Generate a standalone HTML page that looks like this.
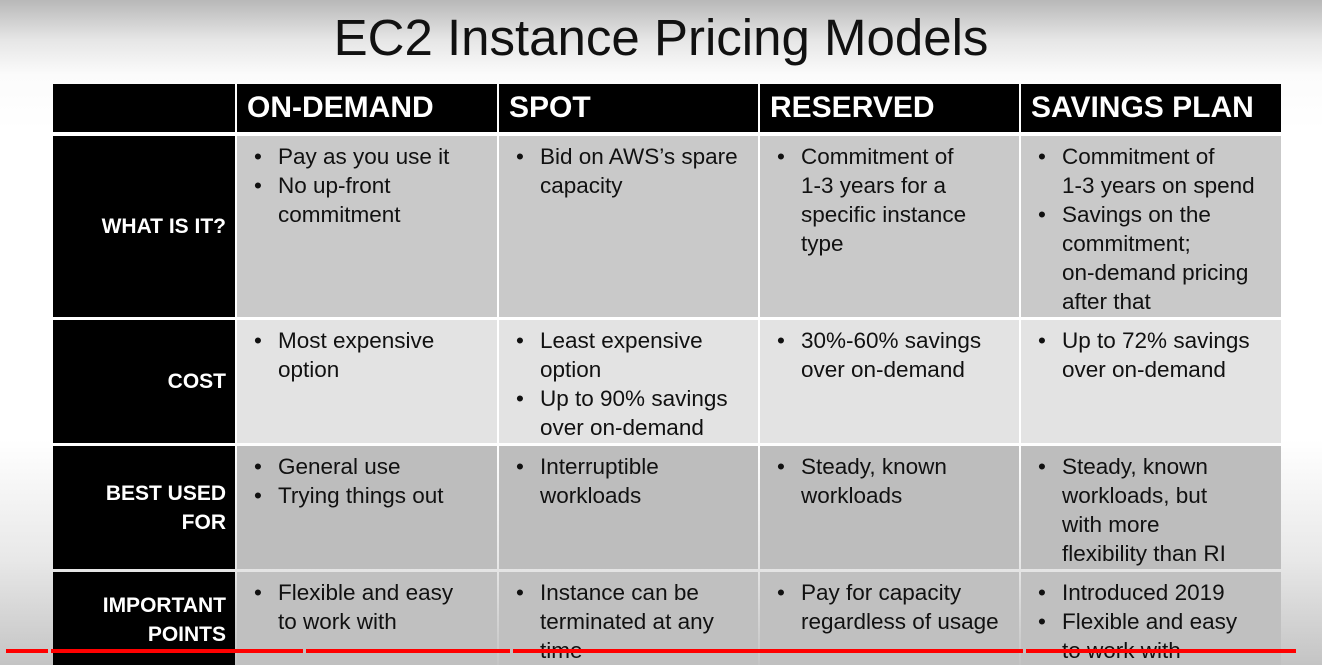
<!DOCTYPE html>
<html><head><meta charset="utf-8"><style>
html,body{margin:0;padding:0}
body{width:1322px;height:665px;overflow:hidden;position:relative;font-family:"Liberation Sans",sans-serif;
background:linear-gradient(to bottom,#b8b8b8 0px,#e6e6e6 40px,#fbfbfb 75px,#ffffff 130px,#ffffff 440px,#e8e8e8 560px,#c4c4c4 665px);}
.title{position:absolute;left:0;width:1322px;top:8px;text-align:center;font-size:51px;color:#111}
.c{position:absolute;box-sizing:border-box}
.h{background:#000;color:#fff;font-weight:bold;font-size:30px;line-height:48px;padding-left:10px}
.l{background:#000;color:#fff;font-weight:bold;font-size:21px;line-height:29px;text-align:right;padding-right:9px;display:flex;flex-direction:column;justify-content:center}
.d{font-size:22.5px;line-height:29px;color:#111;padding-top:6px;overflow:hidden;white-space:nowrap}
.d ul{margin:0;padding:0;list-style:none}
.d li{position:relative;padding-left:41px}
.d li:before{content:"•";position:absolute;left:17px}
.r1{background:#c9c9c9}.r2{background:#e3e3e3}.r3{background:#bdbdbd}.r4{background:#c0c0c0}
.bar{position:absolute;top:649px;height:4px;background:#f00}
</style></head><body>
<div class="title">EC2 Instance Pricing Models</div>

<div class="c h" style="left:53px;top:84px;width:182px;height:48px"></div>
<div class="c h" style="left:237px;top:84px;width:260px;height:48px">ON-DEMAND</div>
<div class="c h" style="left:499px;top:84px;width:259px;height:48px">SPOT</div>
<div class="c h" style="left:760px;top:84px;width:259px;height:48px">RESERVED</div>
<div class="c h" style="left:1021px;top:84px;width:260px;height:48px">SAVINGS PLAN</div>

<div class="c l" style="left:53px;top:136px;width:182px;height:181px">WHAT IS IT?</div>
<div class="c d r1" style="left:237px;top:136px;width:260px;height:181px"><ul><li>Pay as you use it</li><li>No up-front<br>commitment</li></ul></div>
<div class="c d r1" style="left:499px;top:136px;width:259px;height:181px"><ul><li>Bid on AWS’s spare<br>capacity</li></ul></div>
<div class="c d r1" style="left:760px;top:136px;width:259px;height:181px"><ul><li>Commitment of<br>1-3 years for a<br>specific instance<br>type</li></ul></div>
<div class="c d r1" style="left:1021px;top:136px;width:260px;height:181px"><ul><li>Commitment of<br>1-3 years on spend</li><li>Savings on the<br>commitment;<br>on-demand pricing<br>after that</li></ul></div>

<div class="c l" style="left:53px;top:320px;width:182px;height:123px">COST</div>
<div class="c d r2" style="left:237px;top:320px;width:260px;height:123px"><ul><li>Most expensive<br>option</li></ul></div>
<div class="c d r2" style="left:499px;top:320px;width:259px;height:123px"><ul><li>Least expensive<br>option</li><li>Up to 90% savings<br>over on-demand</li></ul></div>
<div class="c d r2" style="left:760px;top:320px;width:259px;height:123px"><ul><li>30%-60% savings<br>over on-demand</li></ul></div>
<div class="c d r2" style="left:1021px;top:320px;width:260px;height:123px"><ul><li>Up to 72% savings<br>over on-demand</li></ul></div>

<div class="c l" style="left:53px;top:446px;width:182px;height:123px">BEST USED<br>FOR</div>
<div class="c d r3" style="left:237px;top:446px;width:260px;height:123px"><ul><li>General use</li><li>Trying things out</li></ul></div>
<div class="c d r3" style="left:499px;top:446px;width:259px;height:123px"><ul><li>Interruptible<br>workloads</li></ul></div>
<div class="c d r3" style="left:760px;top:446px;width:259px;height:123px"><ul><li>Steady, known<br>workloads</li></ul></div>
<div class="c d r3" style="left:1021px;top:446px;width:260px;height:123px"><ul><li>Steady, known<br>workloads, but<br>with more<br>flexibility than RI</li></ul></div>

<div class="c l" style="left:53px;top:572px;width:182px;height:93px;justify-content:flex-start;padding-top:19px">IMPORTANT<br>POINTS</div>
<div class="c d r4" style="left:237px;top:572px;width:260px;height:93px"><ul><li>Flexible and easy<br>to work with</li></ul></div>
<div class="c d r4" style="left:499px;top:572px;width:259px;height:93px"><ul><li>Instance can be<br>terminated at any<br>time</li></ul></div>
<div class="c d r4" style="left:760px;top:572px;width:259px;height:93px"><ul><li>Pay for capacity<br>regardless of usage</li></ul></div>
<div class="c d r4" style="left:1021px;top:572px;width:260px;height:93px"><ul><li>Introduced 2019</li><li>Flexible and easy<br>to work with</li></ul></div>

<div class="bar" style="left:6px;width:42px"></div>
<div class="bar" style="left:51px;width:252px"></div>
<div class="bar" style="left:306px;width:204px"></div>
<div class="bar" style="left:513px;width:510px"></div>
<div class="bar" style="left:1026px;width:270px"></div>
</body></html>
